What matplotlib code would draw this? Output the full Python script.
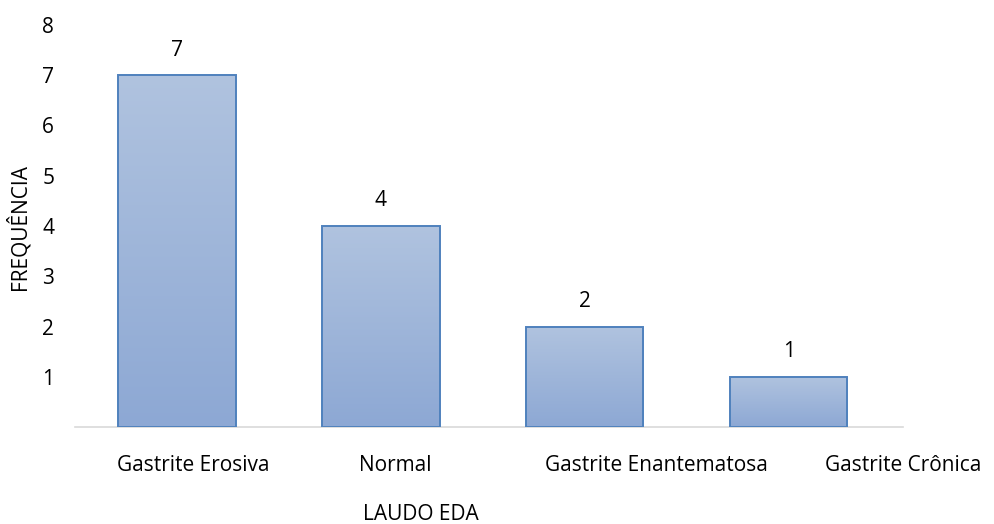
import numpy as np
import matplotlib.pyplot as plt
from matplotlib.colors import LinearSegmentedColormap

categorias = ['Gastrite Erosiva', 'Normal', 'Gastrite Enantematosa', 'Gastrite Crônica']
frequencia = [7, 4, 2, 1]

plt.rcParams['font.family'] = ['Open Sans', 'DejaVu Sans']

# layout: deslocamento dos rótulos do eixo x (como no gráfico original)
desloc_rotulo = [0.082, 0.072, 0.353, 0.56]

fig = plt.figure(figsize=(9.94, 5.24), dpi=100)
ax = fig.add_axes([75 / 994, 1 - 427.3 / 524, 828 / 994, 402.6 / 524])

grad = LinearSegmentedColormap.from_list('g', ['#8da8d4', '#b0c3df'])
pos = np.arange(len(categorias))
barras = ax.bar(pos, frequencia, width=0.575, color='none', edgecolor='#4f81bd',
                linewidth=1.4, zorder=3)
for b in barras:
    x0, y0 = b.get_x(), b.get_y()
    w, h = b.get_width(), b.get_height()
    img = ax.imshow(np.linspace(0, 1, 256).reshape(-1, 1), cmap=grad, aspect='auto',
                    origin='lower', extent=[x0, x0 + w, y0, y0 + h], zorder=2)
    img.set_clip_path(b)

fs = 15
for p, v in zip(pos, frequencia):
    ax.annotate(str(v), (p, v), xytext=(0, 25), textcoords='offset pixels',
                ha='center', va='center', fontsize=fs)

ax.set_xlim(-0.5, 3.5)
ax.set_ylim(0, 8)
ax.set_yticks(range(1, 9))
ax.set_xticks(pos + np.array(desloc_rotulo))
ax.set_xticklabels(categorias)
ax.tick_params(axis='both', length=0, labelsize=fs)
ax.tick_params(axis='x', pad=20)
ax.tick_params(axis='y', pad=15)
for lbl in ax.get_xticklabels():
    lbl.set_clip_on(False)

for s in ['top', 'right', 'left']:
    ax.spines[s].set_visible(False)
ax.spines['bottom'].set_color('#d9d9d9')
ax.spines['bottom'].set_linewidth(1.2)

fig.text(421 / 994, 1 - 515 / 524, 'LAUDO EDA', ha='center', va='center', fontsize=fs)
fig.text(18 / 994, 1 - 227 / 524, 'FREQUÊNCIA', ha='center', va='center',
         rotation=90, fontsize=fs)

fig.savefig('out.png', dpi=100)
